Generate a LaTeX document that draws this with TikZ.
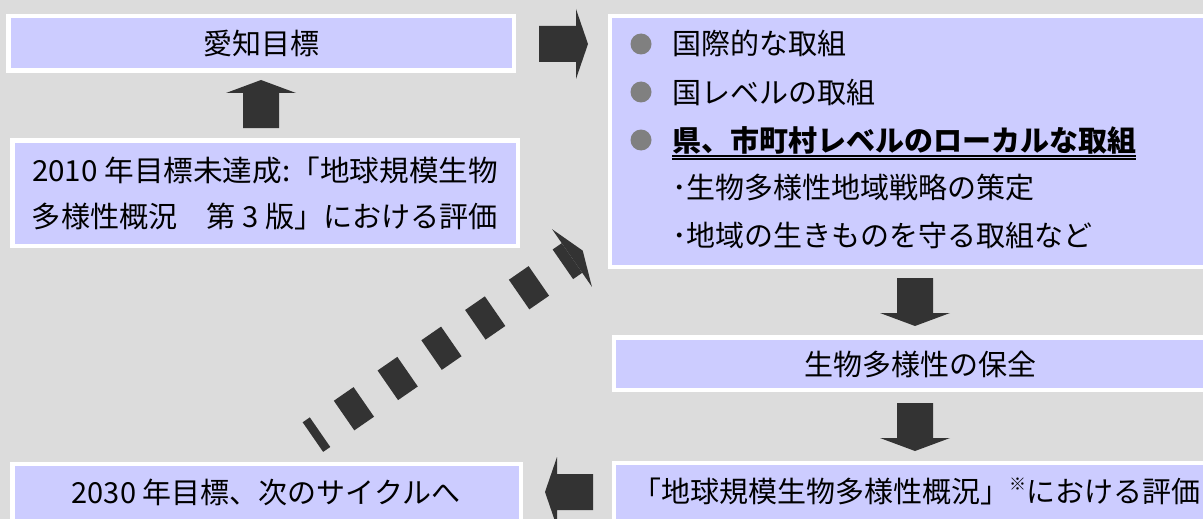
\documentclass[tikz,border=0pt]{standalone}
\usepackage{fontspec}
\usepackage{graphicx}
\setmainfont{Noto Sans CJK JP}
\definecolor{bgc}{HTML}{DCDCDC}
\definecolor{boxc}{HTML}{CCCCFF}
\definecolor{arrc}{HTML}{333333}
\definecolor{dotc}{HTML}{808080}
\begin{document}
\begin{tikzpicture}[x=1pt,y=-1pt,
  box/.style={fill=boxc, draw=white, line width=4.5pt, inner sep=0pt},
  blk/.style={fill=arrc},
  txt/.style={font=\fontsize{29}{29}\selectfont, text=black, inner sep=0pt, text height=24pt, text depth=2pt},
  dotb/.style={fill=dotc}]
\fill[bgc] (0,0) rectangle (1203,519);
\useasboundingbox (0,0) rectangle (1203,519);
\clip (0,0) rectangle (1203,519);

% boxes
\node[box, minimum width=505.5pt, minimum height=54.5pt] (goal) at (261,43.5) {};
\node[box, minimum width=505.5pt, minimum height=105.5pt] (eval2010) at (265,193) {};
\node[box, minimum width=609.75pt, minimum height=250.5pt] (actions) at (915.1,141.5) {};
\node[box, minimum width=605.75pt, minimum height=52.5pt] (conserve) at (917.1,363.5) {};
\node[box, minimum width=605.75pt, minimum height=76.75pt] (gbo) at (917.1,501.6) {};
\node[box, minimum width=508.5pt, minimum height=75.75pt] (next) at (266.5,502.1) {};

% texts
\node[txt] (tgoal) at (261,44) {愛知目標};
\node[txt] (te1) at (265,170) {\resizebox{466pt}{\height}{2010 年目標未達成:「地球規模生物}};
\node[txt] (te2) at (265,216) {\resizebox{466pt}{\height}{多様性概況　第 3 版」における評価}};
\node[txt, anchor=west] (a1) at (672,44) {国際的な取組};
\node[txt, anchor=west] (a2) at (672,92) {国レベルの取組};
\node[txt, anchor=west, font=\fontsize{29}{29}\selectfont\bfseries] (a3) at (672,140) {県、市町村レベルのローカルな取組};
\node[txt, anchor=west] (a4) at (672,187) {･生物多様性地域戦略の策定};
\node[txt, anchor=west] (a5) at (672,235) {･地域の生きものを守る取組など};
\node[txt] (tcons) at (920,364) {生物多様性の保全};
\node[txt] (tgbo) at (916,491) {「地球規模生物多様性概況」\raisebox{0.4em}{\fontsize{17}{17}\selectfont ※}における評価};
\node[txt] (tnext) at (266,492) {2030 年目標、次のサイクルへ};

% bullets
\fill[dotb] (641,44) circle (10.5);
\fill[dotb] (641,92) circle (10.5);
\fill[dotb] (641,140) circle (10.5);

% double underline
\draw[line width=1.6pt] ([yshift=-2.5pt]a3.south west) -- ([yshift=-2.5pt]a3.south east);
\draw[line width=1.6pt] ([yshift=-5.8pt]a3.south west) -- ([yshift=-5.8pt]a3.south east);

% block arrows
\fill[blk] (539,26) -- (576,26) -- (576,9) -- (588,44) -- (576,79) -- (576,62) -- (539,62) -- cycle;
\fill[blk] (243,128) -- (243,93) -- (226,93) -- (261,80) -- (296,93) -- (279,93) -- (279,128) -- cycle;
\fill[blk] (897,278) -- (933,278) -- (933,313) -- (950,313) -- (915,326) -- (880,313) -- (897,313) -- cycle;
\fill[blk] (897,403) -- (933,403) -- (933,438) -- (950,438) -- (915,451) -- (880,438) -- (897,438) -- cycle;
\fill[blk] (593,474) -- (557,474) -- (557,457) -- (545,492) -- (557,527) -- (557,510) -- (593,510) -- cycle;

% dashed diagonal arrow
\coordinate (dh) at (572,258);
\coordinate (ds) at (312.9,437.1);
\draw[arrc, line width=36pt, dash pattern=on 24pt off 29.2pt, dash phase=12.9pt] (dh) -- (ds);
\fill[blk] (552.1,229.2) -- (582.7,250.6) -- (591.9,286.8) -- cycle;
\end{tikzpicture}
\end{document}
